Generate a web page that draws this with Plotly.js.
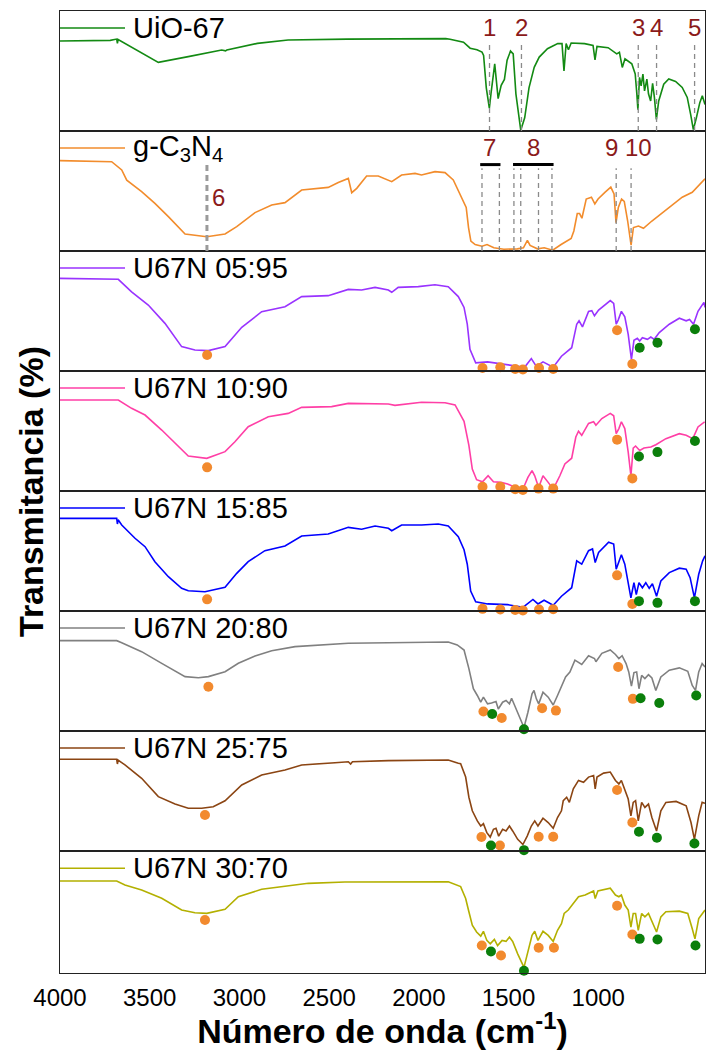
<!DOCTYPE html>
<html>
<head>
<meta charset="utf-8">
<script src="https://cdn.plot.ly/plotly-3.0.1.min.js"></script>
<style>
  html, body { margin: 0; padding: 0; background: #ffffff; }
  #chart { width: 706px; height: 1050px; }
</style>
</head>
<body>
<div id="chart"></div>
<script>
// ---------- FTIR spectra (wavenumber in cm-1, transmittance in relative units per panel) ----------
const uio67Wn = [4000,3720,3684,3680,3676,3600,3452,3285,3099,3077,3070,2900,2729,2400,2100,1850,1826,1751,1714,1676,1648,1639,1624,1607,1598,1577,1558,1541,1523,1508,1489,1474,1459,1432,1410,1386,1357,1329,1283,1226,1202,1191,1179,1166,1151,1076,1029,1018,1007,945,897,882,866,851,813,794,785,779,770,761,751,742,729,720,708,697,687,676,663,635,607,569,532,504,485,470,453,434,420,405];
const uio67T  = [75,75.5,76.6,73,76.3,69.6,57.2,62,67.5,66.8,67.6,73,75.8,76.6,77,77,76.4,74,69,67.7,65.8,63,36,19,31,56,27,38,43,59,66.6,64.3,31,0.7,11,36,53,61.6,68.6,72.8,72.8,50,72.8,67.7,73.3,72.8,71.3,59.3,70.5,69.4,64.3,65.6,53,60.2,56,47.5,31,17.8,44.7,37.7,47.5,33.5,43.3,31,25,39.7,28,9.7,25,39,43.3,41.3,36.3,28,13.8,1.2,11,23.6,29.3,22];

const gcnWn = [4000,3712,3656,3628,3545,3471,3396,3303,3182,3080,3015,2913,2820,2746,2653,2505,2449,2393,2374,2346,2291,2226,2151,2096,2021,1985,1910,1854,1808,1789,1761,1747,1736,1723,1710,1686,1648,1620,1582,1526,1451,1417,1395,1380,1339,1301,1254,1207,1151,1136,1117,1104,1091,1067,1038,1019,1001,963,930,912,901,888,870,855,836,817,804,776,748,701,626,532,476,405];
const gcnT  = [75.3,74.4,67.5,59,49.4,39.7,28.6,14.2,11.9,14.2,20.3,32,38.3,40.3,50.8,53,57,60.5,48.6,52.2,62.5,62.5,57.8,63.3,64.7,63.3,66.1,65.3,59.2,53.2,44.7,39.7,36.3,19.5,8.3,5.4,4,5.4,2.7,1.5,1.8,2.7,8.8,4.6,1.8,2.7,0.7,5.4,10.5,16.7,31.2,31.2,27.3,43.3,44.8,39.2,43.3,48.9,53.2,47.5,23.6,36.3,43.3,41.3,25,4.8,19.5,20.8,18.9,25,33.5,44.8,48.9,60.2];

const u0595Wn = [4000,3675,3601,3508,3415,3322,3248,3173,3080,2987,2876,2746,2653,2505,2393,2319,2244,2170,2151,2115,2003,1910,1836,1780,1748,1730,1715,1683,1617,1542,1467,1411,1373,1345,1308,1251,1205,1148,1120,1107,1088,1054,1036,1021,998,970,933,914,900,889,871,852,833,815,801,782,769,754,726,707,688,660,604,548,510,491,469,444,426,411,405];
const u0595T  = [77.2,76.4,66,55,39.7,20.3,17.5,17,20.3,36.4,49.4,53.6,62,62.8,68,67.5,69.7,67.5,65.6,69.7,70.3,71.9,70.3,62,53,39,18,6.8,7.6,5.9,4.8,3.1,10.4,3.9,7.6,3.1,12.3,19.4,39,41.8,36.8,49.7,50.3,46,50.8,54.4,58.7,56.4,39,42.4,49.7,45.2,30.6,9.6,25.6,27.2,25,27.8,26.4,28.3,26.4,32,39,44,41.8,43,39,49.7,54.4,57.2,53];

const u1090Wn = [4000,3675,3601,3526,3433,3340,3285,3182,3080,3025,2951,2839,2728,2653,2486,2393,2170,2133,1985,1854,1798,1748,1721,1702,1678,1645,1614,1584,1542,1505,1449,1420,1392,1369,1354,1332,1308,1279,1251,1214,1186,1148,1125,1110,1092,1054,1026,1013,980,933,914,900,885,871,852,833,818,805,792,769,745,707,679,623,548,510,473,444,407];
const u1090T  = [75.8,75.8,68.9,63.3,50.8,36.9,29.2,27.2,32.8,41,53.6,61.9,64.7,69.7,70.3,73,72.5,71.4,73.9,73.6,71.7,58,38,18.3,9.4,7.7,12.7,7.7,7.2,5.8,2.1,1.5,11.3,17,12.7,2.9,12.7,7.2,1.5,12.7,22.6,27.3,45,49.8,46.4,56.3,57.7,54.8,60.4,64.7,62.7,47.8,52,57.7,52,32.4,12.7,35.8,37.5,33.8,35.8,36.6,38.6,43.6,47.8,46.4,43.6,53.4,57.7];

const u1585Wn = [4000,3684,3680,3676,3656,3582,3526,3471,3396,3322,3285,3192,3080,3015,2951,2858,2746,2653,2505,2430,2393,2319,2244,2170,2151,2096,1985,1892,1836,1780,1748,1730,1711,1683,1617,1505,1420,1364,1336,1302,1251,1205,1148,1120,1092,1054,1032,1017,998,942,914,900,885,871,852,833,818,801,788,773,754,735,716,698,675,651,604,548,510,488,464,440,418,405];
const u1585T  = [77.2,77.2,72.5,76,71.7,60.6,53.6,41.1,28.6,18.9,16.9,16.1,19.7,31.4,41.1,50.3,54.2,62.5,64.2,68.1,69.7,68.1,70.8,68.9,66.9,71.7,71.7,72.5,70.8,61.9,51,39,16.6,7.6,5.9,5.3,3.1,9.6,5.9,9,4.8,12.3,19.4,41.8,39,50.3,51.7,40.4,48.8,57.3,55.8,34.8,41.8,46.9,39,25,11,23.6,13.7,23.6,19.4,23.6,18.9,22.7,12.3,25,32,35.7,34.8,27.8,11,30.6,41.8,46];

const u2080Wn = [4000,3684,3656,3545,3433,3303,3229,3173,3080,3006,2913,2820,2690,2541,2393,2170,1836,1786,1748,1721,1696,1674,1655,1640,1617,1595,1570,1557,1533,1514,1495,1483,1458,1433,1414,1392,1369,1358,1345,1332,1308,1279,1251,1227,1205,1182,1158,1130,1092,1054,1021,1013,980,933,904,885,867,845,830,815,801,786,773,758,740,720,701,679,651,604,548,501,476,458,440,421,405];
const u2080T  = [75.3,75.3,73.6,66.1,56.4,45.3,44.4,45.3,49.4,56.4,62.5,66.9,70.3,71.4,73.1,73.6,74.2,71.7,67.5,52,35.2,29.6,24,28.2,22.6,23.4,24.6,18.3,24,25.4,22.6,27.3,18.9,9.9,2.9,15.6,31,33.8,26.8,22.6,32.4,28.2,21.7,29.6,36.6,45,49.2,59.1,55.4,62.7,60.4,57.7,64.7,67.5,63.8,60.4,62.7,56.2,49.2,37.4,48.7,49.2,35.2,46.4,43.7,47,44.2,33.8,45,50.7,52.6,49.8,38,33.8,49.2,56.2,53.4];

const u2575Wn = [4000,3684,3680,3676,3638,3545,3452,3359,3285,3210,3146,3080,2987,2876,2746,2653,2467,2393,2380,2370,2170,1836,1780,1767,1739,1721,1702,1674,1655,1640,1621,1602,1584,1570,1555,1533,1514,1495,1477,1449,1420,1396,1373,1354,1336,1308,1279,1251,1227,1205,1195,1176,1161,1139,1110,1082,1054,1026,1017,1007,970,933,904,885,871,852,833,818,805,792,777,758,740,720,701,675,651,623,566,510,483,464,440,421,405];
const u2575T  = [76.4,76.4,72.5,75.8,71.7,60.6,45.3,39.2,35.6,35.6,36.9,41.9,55,63.3,67.5,71.7,73.6,74.4,72.5,74.4,75.3,75.8,73.1,72.8,61.6,44.8,33.5,25.1,20.8,22.8,15.3,11.6,18.1,18.9,12.4,18.1,16.7,20.8,16.7,9.7,5.4,12.4,20.8,25.1,20.8,27.3,23.7,18.9,27.9,33.5,41.9,44.8,40.5,51.8,58.8,57.3,61.6,62.9,51.8,61.6,64.9,65.8,58.8,55.9,58.8,50.3,43.3,29.3,40.5,41.9,25.1,40.5,36.3,39.1,27.9,16.7,33.5,40.5,41.3,37.7,23.7,9.7,29.3,40.5,39.7];

const u3070Wn = [4000,3684,3638,3545,3433,3322,3248,3182,3080,3006,2876,2728,2616,2412,2170,1836,1767,1739,1721,1702,1678,1655,1640,1621,1602,1579,1561,1536,1514,1495,1477,1449,1414,1392,1369,1354,1336,1308,1279,1251,1227,1205,1190,1167,1139,1110,1073,1045,1026,1017,1002,933,904,885,871,852,833,818,805,792,777,758,740,720,701,675,651,623,548,501,476,461,440,405];
const u3070T  = [75.4,75.4,72.1,68,61.2,51.6,49.4,48.9,52.2,62.5,68.6,71.3,73.5,74.6,74.8,74.8,70.8,61.1,50.2,39.1,33.6,30.2,34.2,26.7,23.9,27.5,22.5,26.7,25.9,29.4,25.9,15.7,4.6,17,30.8,34.2,26.7,34.2,30.8,25.9,35,40.5,48.8,51.6,57,62.5,63.9,66.1,67.2,61.1,67.2,69.5,63.9,62.5,63.9,55.7,51.6,37.7,48.8,48.8,35,48.8,46,48.8,41.9,33.6,46,50.2,50.7,48.8,36.3,28,44.6,51.6];

// ---------- band markers on the composites (orange: g-C3N4 bands, green: UiO-67 bands) ----------
const u0595OrangeWn = [3180,1645,1546,1463,1420,1330,1251,895,810];
const u0595OrangeT  = [13.3,2.5,3.1,1.7,1.2,2.5,1.7,34,5.9];
const u0595GreenWn  = [769,670,461];
const u0595GreenT   = [19.4,23.6,34.8];

const u1090OrangeWn = [3180,1645,1546,1463,1420,1333,1251,895,810];
const u1090OrangeT  = [19.7,3.5,3.5,1.5,0.8,2,2,42.8,10.5];
const u1090GreenWn  = [773,670,461];
const u1090GreenT   = [28.7,32.4,41.7];

const u1585OrangeWn = [3180,1645,1546,1463,1420,1330,1251,895,810];
const u1585OrangeT  = [9.7,1.8,1.2,0.8,0.5,1.2,1.5,29.7,5.9];
const u1585GreenWn  = [773,670,461];
const u1585GreenT   = [8.2,6.8,8.2];

const u2080OrangeWn = [3173,1640,1538,1313,1236,889,807];
const u2080OrangeT  = [36.9,16.2,10.8,18.9,17,53.4,26.8];
const u2080GreenWn  = [1591,1414,764,660,454];
const u2080GreenT   = [14.2,1.5,27.3,23.4,29.6];

const u2575OrangeWn = [3192,1651,1548,1332,1251,895,810];
const u2575OrangeT  = [30,11.6,4.6,11.9,11.9,50.9,23.7];
const u2575GreenWn  = [1598,1414,773,673,464];
const u2575GreenT   = [4.6,0.7,16.1,11.1,6.3];

const u3070OrangeWn = [3192,1649,1542,1332,1247,895,810];
const u3070OrangeT  = [43.4,22.5,14.3,20.7,20.7,55.1,31.6];
const u3070GreenWn  = [1598,1414,769,670,458];
const u3070GreenT   = [17.6,1.9,28,27.5,22.5];

// ---------- band assignments ----------
const uioBandWn     = [1606,1428,777,675,463];
const uioBandLabels = ['1','2','3','4','5'];

const gcnBand6Wn      = 3181;
const gcnBand6LabelWn = 3114;
const gcnBand7Wn      = [1648,1551];
const gcnBand7Span    = [1658,1545];
const gcnBand7LabelWn = 1605;
const gcnBand8Wn      = [1470,1432,1333,1258];
const gcnBand8Span    = [1475,1249];
const gcnBand8LabelWn = 1361;
const gcnBand9Wn      = 900;
const gcnBand9LabelWn = 926;
const gcnBand10Wn     = 817;
const gcnBand10LabelWn= 775;

const xTickVals = [4000,3500,3000,2500,2000,1500,1000,500];

// ---------- panels, top to bottom ----------
const panels = [
  {name: 'UiO-67',                        color: '#138a13', wn: uio67Wn, t: uio67T},
  {name: 'g-C<sub>3</sub>N<sub>4</sub>',  color: '#f28c2c', wn: gcnWn,   t: gcnT},
  {name: 'U67N 05:95', color: '#9933ff', wn: u0595Wn, t: u0595T, oWn: u0595OrangeWn, oT: u0595OrangeT, gWn: u0595GreenWn, gT: u0595GreenT},
  {name: 'U67N 10:90', color: '#ff3fa6', wn: u1090Wn, t: u1090T, oWn: u1090OrangeWn, oT: u1090OrangeT, gWn: u1090GreenWn, gT: u1090GreenT},
  {name: 'U67N 15:85', color: '#0000ff', wn: u1585Wn, t: u1585T, oWn: u1585OrangeWn, oT: u1585OrangeT, gWn: u1585GreenWn, gT: u1585GreenT},
  {name: 'U67N 20:80', color: '#808080', wn: u2080Wn, t: u2080T, oWn: u2080OrangeWn, oT: u2080OrangeT, gWn: u2080GreenWn, gT: u2080GreenT},
  {name: 'U67N 25:75', color: '#8b4513', wn: u2575Wn, t: u2575T, oWn: u2575OrangeWn, oT: u2575OrangeT, gWn: u2575GreenWn, gT: u2575GreenT},
  {name: 'U67N 30:70', color: '#b3b000', wn: u3070Wn, t: u3070T, oWn: u3070OrangeWn, oT: u3070OrangeT, gWn: u3070GreenWn, gT: u3070GreenT}
];

const FONT = 'Liberation Sans, Arial, Helvetica, sans-serif';
const LABEL_RED = '#8b1a1a';
const ORANGE = '#f28a2e';
const GREEN = '#0b7f0b';

// panel edges in pixels from the top of the page
const W = 706, H = 1050;
const mL = 60, mR = 1, mT = 11, mB = 77;
const edges = [11,131,251,371,491,611,731,851,973];
const plotH = H - mT - mB;
const plotW = W - mL - mR;
const plotBottom = H - mB;

const traces = [];
const layout = {
  width: W, height: H,
  margin: {l: mL, r: mR, t: mT, b: mB, pad: 0},
  paper_bgcolor: '#ffffff',
  plot_bgcolor: '#ffffff',
  showlegend: false,
  font: {family: FONT, color: '#000000'},
  shapes: [],
  annotations: []
};

panels.forEach((p, i) => {
  const n = i + 1;
  const xa = n === 1 ? 'x' : 'x' + n;
  const ya = n === 1 ? 'y' : 'y' + n;
  const xKey = n === 1 ? 'xaxis' : 'xaxis' + n;
  const yKey = n === 1 ? 'yaxis' : 'yaxis' + n;
  const isBottom = i === panels.length - 1;

  layout[xKey] = {
    anchor: ya,
    range: [4000, 405],
    autorange: false,
    showline: true, mirror: true, linecolor: '#222222', linewidth: 1,
    showgrid: false, zeroline: false,
    ticks: '',
    showticklabels: isBottom,
    tickvals: xTickVals,
    ticktext: xTickVals.map(String),
    tickfont: {family: FONT, size: 24, color: '#000000'},
    ticklabelstandoff: 3
  };
  if (n > 1) layout[xKey].matches = 'x';
  if (isBottom) {
    layout[xKey].title = {
      text: '<b>Número de onda (cm<sup>-1</sup>)</b>',
      font: {family: FONT, size: 34, color: '#000000'},
      standoff: 9
    };
  }
  layout[yKey] = {
    anchor: xa,
    domain: [(plotBottom - edges[i + 1]) / plotH, (plotBottom - edges[i]) / plotH],
    range: [0, 100],
    autorange: false,
    showline: true, mirror: true, linecolor: '#222222', linewidth: 1,
    showgrid: false, zeroline: false,
    ticks: '', showticklabels: false
  };

  traces.push({
    type: 'scatter', mode: 'lines',
    x: p.wn, y: p.t, xaxis: xa, yaxis: ya,
    line: {color: p.color, width: 1.6},
    name: p.name, hoverinfo: 'x+y'
  });
  if (p.oWn) {
    traces.push({
      type: 'scatter', mode: 'markers',
      x: p.oWn, y: p.oT, xaxis: xa, yaxis: ya,
      marker: {color: ORANGE, size: 10},
      cliponaxis: false, hoverinfo: 'x'
    });
    traces.push({
      type: 'scatter', mode: 'markers',
      x: p.gWn, y: p.gT, xaxis: xa, yaxis: ya,
      marker: {color: GREEN, size: 10},
      cliponaxis: false, hoverinfo: 'x'
    });
  }

  // in-panel key: short line plus sample name
  layout.shapes.push({
    type: 'line', xref: 'paper', yref: ya + ' domain',
    x0: 0, x1: 65 / plotW, y0: 0.858, y1: 0.858,
    line: {color: p.color, width: 1.6}
  });
  layout.annotations.push({
    xref: 'paper', yref: ya + ' domain',
    x: 71 / plotW, y: 0.86, xanchor: 'left', yanchor: 'middle',
    text: p.name, showarrow: false,
    font: {family: FONT, size: 29, color: '#000000'}
  });
});

// ---------- band marks on UiO-67 ----------
const dashLine = {color: '#8a8a8a', width: 1.3, dash: '5px,4px'};
uioBandWn.forEach((w, k) => {
  layout.shapes.push({type: 'line', xref: 'x', yref: 'y', x0: w, x1: w, y0: 0, y1: 75, line: dashLine});
  layout.annotations.push({
    xref: 'x', yref: 'y', x: w, y: 86, text: uioBandLabels[k], showarrow: false,
    xanchor: 'center', yanchor: 'middle', font: {family: FONT, size: 24, color: LABEL_RED}
  });
});

// ---------- band marks on g-C3N4 ----------
layout.shapes.push({type: 'line', xref: 'x2', yref: 'y2', x0: gcnBand6Wn, x1: gcnBand6Wn, y0: 0, y1: 72,
  line: {color: '#9a9a9a', width: 3, dash: '6px,4px'}});
layout.annotations.push({xref: 'x2', yref: 'y2', x: gcnBand6LabelWn, y: 45, text: '6', showarrow: false,
  font: {family: FONT, size: 24, color: LABEL_RED}});

gcnBand7Wn.concat(gcnBand8Wn, [gcnBand9Wn, gcnBand10Wn]).forEach(w => {
  layout.shapes.push({type: 'line', xref: 'x2', yref: 'y2', x0: w, x1: w, y0: 0, y1: 69, line: dashLine});
});
[gcnBand7Span, gcnBand8Span].forEach(s => {
  layout.shapes.push({type: 'line', xref: 'x2', yref: 'y2', x0: s[0], x1: s[1], y0: 72, y1: 72,
    line: {color: '#000000', width: 3}});
});
[[gcnBand7LabelWn, '7'], [gcnBand8LabelWn, '8'], [gcnBand9LabelWn, '9'], [gcnBand10LabelWn, '10']].forEach(([w, txt]) => {
  layout.annotations.push({xref: 'x2', yref: 'y2', x: w, y: 86, text: txt, showarrow: false,
    xanchor: 'center', yanchor: 'middle', font: {family: FONT, size: 24, color: LABEL_RED}});
});

// ---------- shared y title ----------
layout.annotations.push({
  xref: 'paper', yref: 'paper', x: -29 / plotW, y: 0.5,
  xanchor: 'center', yanchor: 'middle', textangle: -90,
  text: '<b>Transmitancia (%)</b>', showarrow: false,
  font: {family: FONT, size: 34, color: '#000000'}
});

Plotly.newPlot('chart', traces, layout, {displayModeBar: false, staticPlot: true});
</script>
</body>
</html>
